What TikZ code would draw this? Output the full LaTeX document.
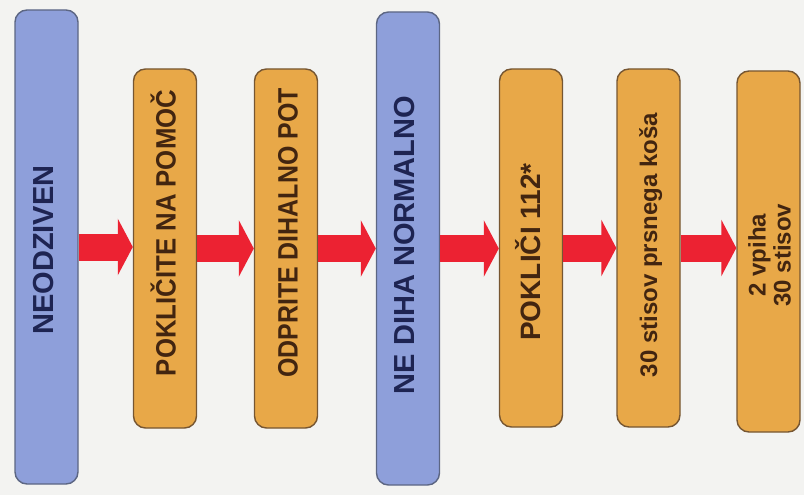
\documentclass[tikz,border=0pt]{standalone}
\usepackage{fontspec}
\usepackage{graphicx}
\setmainfont{Liberation Sans}
\usetikzlibrary{arrows.meta}
\definecolor{bgc}{HTML}{F3F3F1}
\definecolor{bluefill}{HTML}{8E9FDA}
\definecolor{blueline}{HTML}{5C6683}
\definecolor{orfill}{HTML}{E8A848}
\definecolor{orline}{HTML}{765632}
\definecolor{bluetext}{HTML}{1E2452}
\definecolor{ortext}{HTML}{422510}
\definecolor{arrred}{HTML}{EC2232}
\tikzset{
  bluebox/.style={draw=blueline, fill=bluefill, line width=1.4pt, rounded corners=12pt, inner sep=0pt, minimum width=63pt},
  orbox/.style={draw=orline, fill=orfill, line width=1.4pt, rounded corners=12pt, inner sep=0pt, minimum width=63pt},
  vtext/.style={rotate=90, inner sep=0pt, anchor=base, font=\bfseries},
  bigarrow/.style={draw=arrred, line width=27pt, -{Triangle[length=15pt, width=56pt]}, arrred}
}
\begin{document}
\begin{tikzpicture}[x=1pt, y=-1pt]
\fill[bgc] (0,0) rectangle (804,495);
\useasboundingbox (0,0) rectangle (804,495);
% boxes
\node[bluebox, minimum height=474pt] (b1) at (46.5,247) {};
\node[orbox, minimum height=359pt] (o1) at (165,248.5) {};
\node[orbox, minimum height=359pt] (o2) at (286,248.5) {};
\node[bluebox, minimum height=473pt] (b2) at (408,248.5) {};
\node[orbox, minimum height=358pt] (o3) at (531,248) {};
\node[orbox, minimum height=358pt] (o4) at (648.5,248) {};
\node[orbox, minimum height=361pt] (o5) at (768.5,251.5) {};
% texts
\node[vtext, text=bluetext, font=\bfseries\fontsize{29}{30}\selectfont] (t1) at (53,250) {NEODZIVEN};
\node[vtext, text=ortext, font=\bfseries\fontsize{28}{30}\selectfont] (t2) at (175.5,233) {\scalebox{0.92}[1]{POKLIČITE NA POMOČ}};
\node[vtext, text=ortext, font=\bfseries\fontsize{28}{30}\selectfont] (t3) at (297.5,233) {\scalebox{0.89}[1]{ODPRITE DIHALNO POT}};
\node[vtext, text=bluetext, font=\bfseries\fontsize{29}{30}\selectfont] (t4) at (414,245) {NE DIHA NORMALNO};
\node[vtext, text=ortext, font=\bfseries\fontsize{28}{30}\selectfont] (t5) at (540,252) {POKLIČI 112*};
\node[vtext, text=ortext, font=\bfseries\fontsize{24}{26}\selectfont] (t6) at (657,245) {30 stisov prsnega koša};
\node[rotate=90, inner sep=0pt, anchor=center, align=center, text=ortext, font=\bfseries\fontsize{24}{25}\selectfont] (t7) at (769.5,255) {2 vpiha\\30 stisov};
% arrows
\draw[bigarrow] (b1.east) -- (b1.east -| o1.west);
\draw[bigarrow] (o1.east) -- (o1.east -| o2.west);
\draw[bigarrow] (o2.east) -- (o2.east -| b2.west);
\draw[bigarrow] (b2.east) -- (b2.east -| o3.west);
\draw[bigarrow] (o3.east) -- (o3.east -| o4.west);
\draw[bigarrow] (o4.east) -- (o4.east -| o5.west);
\end{tikzpicture}
\end{document}
